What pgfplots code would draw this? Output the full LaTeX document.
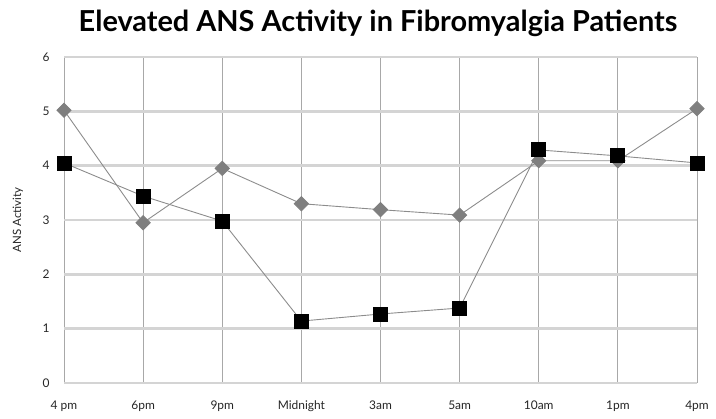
\documentclass[border=0pt]{standalone}
\usepackage{pgfplots}
\pgfplotsset{compat=1.18}
\usepackage{fontspec}
\setmainfont{Lato}
\newfontfamily\titlefont{Lato}
\definecolor{hgrid}{HTML}{D4D4D4}
\definecolor{vgrid}{HTML}{A8A8A8}
\definecolor{graylin}{HTML}{8C8C8C}
\definecolor{diam}{HTML}{7F7F7F}
\begin{document}
\begin{tikzpicture}[x=1bp,y=1bp]
\path[use as bounding box] (0,0) rectangle (716,418);
\node[font=\titlefont\bfseries\fontsize{29}{32}\selectfont, anchor=center] at (378,395) {Elevated ANS Activity in Fibromyalgia Patients};
\begin{axis}[
  at={(64bp,35bp)}, anchor=south west,
  scale only axis, width=633bp, height=326bp,
  xmin=0, xmax=8, ymin=0, ymax=6,
  xtick={0,...,8},
  xticklabels={4 pm,6pm,9pm,Midnight,3am,5am,10am,1pm,4pm},
  ytick={0,...,6},
  /pgf/number format/assume math mode=true,
  tick label style={font=\fontsize{12}{13}\selectfont, text=black!85},
  xticklabel style={yshift=-14bp},
  yticklabel style={xshift=-11bp},
  ylabel={ANS Activity},
  ylabel style={font=\fontsize{11.5}{12}\selectfont, text=black!85,
    at={(axis description cs:-0.073,0.5)}, anchor=center},
  major tick length=0pt,
  axis line style={draw=none},
  ymajorgrids, xmajorgrids,
  y grid style={hgrid, line width=2.5bp},
  x grid style={vgrid, line width=1bp},
  clip=false,
]
\addplot[graylin, line width=0.9bp, mark=square*, mark size=5bp,
  mark options={rotate=45, fill=diam, draw=diam}]
  coordinates {(0,5.02) (1,2.95) (2,3.95) (3,3.30) (4,3.19) (5,3.09) (6,4.09) (7,4.09) (8,5.05)};
\addplot[graylin, line width=0.9bp, mark=square*, mark size=7bp,
  mark options={fill=black, draw=black}]
  coordinates {(0,4.05) (1,3.44) (2,2.98) (3,1.14) (4,1.27) (5,1.38) (6,4.29) (7,4.18) (8,4.05)};
\end{axis}
\end{tikzpicture}
\end{document}
